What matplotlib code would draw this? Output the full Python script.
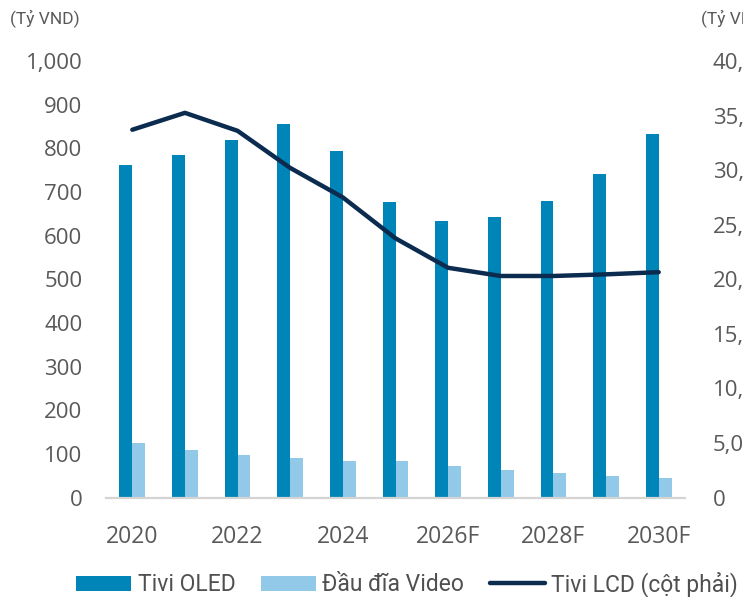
import matplotlib
matplotlib.use("Agg")
import matplotlib.pyplot as plt
import numpy as np
from matplotlib.ticker import FuncFormatter

years = ["2020", "2021", "2022", "2023", "2024", "2025",
         "2026F", "2027F", "2028F", "2029F", "2030F"]
tick_labels = ["2020", "", "2022", "", "2024", "", "2026F", "", "2028F", "", "2030F"]

oled = [762, 785, 820, 856, 794, 676, 634, 643, 679, 742, 832]
video = [125, 108, 98, 91, 84, 84, 72, 63, 55, 49, 45]
lcd = [33700, 35250, 33600, 30200, 27500, 23750, 21050, 20300, 20300, 20450, 20650]

c_oled = "#0085B8"
c_video = "#92C8E8"
c_lcd = "#0B2B4F"
c_text = "#595959"

plt.rcParams["font.family"] = ["Open Sans", "DejaVu Sans"]

fig = plt.figure(figsize=(7.43, 5.97), dpi=100)
W, H = 743, 597
ax = fig.add_axes([106 / W, (H - 497.5) / H, (685 - 106) / W, (497.5 - 61) / H])
ax2 = ax.twinx()

x = np.arange(len(years))
bw = 0.245
ax.bar(x - bw / 2, oled, width=bw, color=c_oled, label="Tivi OLED", zorder=2)
ax.bar(x + bw / 2, video, width=bw, color=c_video, label="Đầu đĩa Video", zorder=2)
ax2.plot(x, lcd, color=c_lcd, lw=3.2, solid_capstyle="round",
         solid_joinstyle="round", label="Tivi LCD (cột phải)")

ax.set_xlim(-0.5, len(years) - 0.5)
ax.set_ylim(0, 1000)
ax2.set_ylim(0, 40000)
ax.set_yticks(np.arange(0, 1001, 100))
ax2.set_yticks(np.arange(0, 40001, 5000))
ax.yaxis.set_major_formatter(FuncFormatter(lambda v, p: f"{v:,.0f}"))
ax2.yaxis.set_major_formatter(FuncFormatter(lambda v, p: f"{v:,.0f}"))
ax.set_xticks(x)
ax.set_xticklabels(tick_labels)

for a in (ax, ax2):
    for s in a.spines.values():
        s.set_visible(False)
    a.tick_params(length=0, colors=c_text, labelsize=16)
ax.spines["bottom"].set_visible(True)
ax.spines["bottom"].set_color("#D4D4D4")
ax.spines["bottom"].set_linewidth(1.6)
ax.tick_params(axis="y", pad=17)
ax.tick_params(axis="x", pad=20, labelsize=16.5)
ax2.tick_params(axis="y", pad=20)

narrow = ["Liberation Sans Narrow", "Roboto", "DejaVu Sans"]
fig.text(10 / W, 1 - 18 / H, "(Tỷ VND)", color=c_text, fontsize=12.5,
         family=narrow, va="center", ha="left")
fig.text(701 / W, 1 - 18 / H, "(Tỷ VND)", color=c_text, fontsize=12.5,
         family=narrow, va="center", ha="left")

h1, l1 = ax.get_legend_handles_labels()
h2, l2 = ax2.get_legend_handles_labels()
fig.legend(h1 + h2, l1 + l2, loc="center", bbox_to_anchor=(407 / W, 1 - 584 / H),
           ncol=3, frameon=False, prop={"family": narrow, "size": 16.5},
           handlelength=2.4, handleheight=0.65, handletextpad=0.3,
           columnspacing=1.1, labelcolor="#505050")

fig.savefig("out.png", dpi=100)
